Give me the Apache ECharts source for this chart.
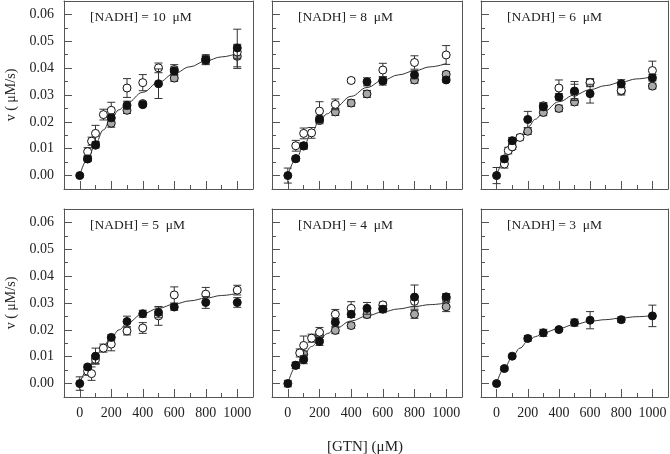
<!DOCTYPE html>
<html><head><meta charset="utf-8">
<script src="https://cdn.jsdelivr.net/npm/echarts@6/dist/echarts.min.js"></script>
<style>html,body{margin:0;padding:0;background:#fff}#c{width:670px;height:454px}</style>
</head><body><div id="c"></div>
<script>
// ---- tick labels / titles ----
const xMajorTicks = [0, 200, 400, 600, 800, 1000];
const xMinorTicks = [100, 300, 500, 700, 900];
const yMajorTicks = [0, 0.01, 0.02, 0.03, 0.04, 0.05, 0.06];
const yMinorTicks = [0.005, 0.015, 0.025, 0.035, 0.045, 0.055];
const panelTitles = ['[NADH] = 10  \u03bcM', '[NADH] = 8  \u03bcM', '[NADH] = 6  \u03bcM',
                     '[NADH] = 5  \u03bcM', '[NADH] = 4  \u03bcM', '[NADH] = 3  \u03bcM'];
const yTitle = 'v ( \u03bcM/s)';
const xTitle = '[GTN] (\u03bcM)';

// ---- data: [GTN, v, error] ----
const p1Black = [[0,0,0.0005],[50,0.0062,0.0008],[100,0.0115,0.001],[200,0.0215,0.0012],[300,0.0262,0.0015],[400,0.0264,0.0007],[500,0.0342,0.0055],[600,0.0389,0.0015],[800,0.0431,0.0015],[1000,0.0475,0.007]];
const p1Gray  = [[50,0.0062,0.0008],[100,0.0113,0.001],[200,0.0195,0.0015],[300,0.0243,0.0012],[400,0.0268,0.0008],[600,0.0363,0.0012],[800,0.0428,0.0015],[1000,0.0444,0.0045]];
const p1Open  = [[50,0.0089,0.0015],[75,0.0128,0.0015],[100,0.0157,0.003],[150,0.0227,0.002],[200,0.0243,0.003],[300,0.0326,0.0035],[400,0.0346,0.003],[500,0.0401,0.0018],[600,0.0395,0.0018],[800,0.0435,0.0015],[1000,0.046,0.0025]];

const p2Black = [[0,0,0.0028],[50,0.0063,0.0008],[100,0.0111,0.001],[200,0.021,0.0012],[500,0.0349,0.0015],[600,0.0352,0.0015],[800,0.0375,0.0015],[1000,0.0356,0.0008]];
const p2Gray  = [[50,0.0063,0.0008],[100,0.011,0.0012],[200,0.0205,0.0012],[300,0.0237,0.0013],[400,0.027,0.0012],[500,0.0304,0.0013],[600,0.0355,0.0012],[800,0.0356,0.0012],[1000,0.0377,0.001]];
const p2Open  = [[50,0.0111,0.002],[100,0.0157,0.002],[150,0.0159,0.002],[200,0.024,0.0035],[300,0.0265,0.002],[400,0.0354,0.0008],[600,0.0393,0.0025],[800,0.0421,0.0025],[1000,0.0449,0.0035]];

const p3Black = [[0,0,0.003],[50,0.0062,0.001],[100,0.013,0.0012],[200,0.0209,0.003],[300,0.0256,0.0012],[400,0.0293,0.0012],[500,0.0315,0.0035],[600,0.0305,0.0035],[800,0.0342,0.0015],[1000,0.0364,0.0012]];
const p3Gray  = [[100,0.0107,0.001],[200,0.0165,0.0012],[300,0.0235,0.0012],[400,0.025,0.0012],[500,0.0274,0.0012],[600,0.0346,0.0012],[800,0.0315,0.0015],[1000,0.0333,0.001]];
const p3Open  = [[50,0.0043,0.0015],[75,0.0093,0.0012],[100,0.0107,0.001],[150,0.0142,0.001],[300,0.026,0.0012],[400,0.0326,0.003],[500,0.031,0.003],[600,0.0346,0.0015],[800,0.0317,0.0012],[1000,0.0391,0.0035]];

const p4Black = [[0,0,0.0025],[50,0.0062,0.0008],[100,0.0102,0.003],[200,0.0172,0.001],[300,0.0231,0.002],[400,0.026,0.0013],[500,0.0265,0.002],[600,0.0285,0.0012],[800,0.0302,0.0022],[1000,0.0302,0.0018]];
const p4Gray  = [];
const p4Open  = [[50,0.0046,0.0015],[75,0.0037,0.0025],[100,0.009,0.0015],[150,0.0132,0.0015],[200,0.0147,0.0025],[300,0.0196,0.0015],[400,0.0207,0.002],[500,0.0252,0.0035],[600,0.033,0.003],[800,0.0333,0.0025],[1000,0.0348,0.0018]];

const p5Black = [[0,0,0.0012],[50,0.0068,0.0012],[100,0.0089,0.0015],[200,0.0157,0.0015],[300,0.0228,0.0015],[400,0.0258,0.0012],[500,0.028,0.0022],[600,0.0277,0.0013],[800,0.0322,0.0045],[1000,0.0323,0.0012]];
const p5Gray  = [[50,0.0068,0.001],[100,0.0109,0.0012],[200,0.0179,0.0015],[300,0.0198,0.0012],[400,0.0216,0.001],[500,0.0257,0.0012],[600,0.0279,0.001],[800,0.0258,0.0015],[1000,0.0286,0.0018]];
const p5Open  = [[75,0.0114,0.0015],[100,0.0142,0.0035],[150,0.0169,0.0015],[200,0.0191,0.0018],[300,0.0258,0.0018],[400,0.028,0.0025],[600,0.0293,0.001],[800,0.0306,0.002],[1000,0.0318,0.0015]];

const p6Black = [[0,0,0.0005],[50,0.0056,0.0007],[100,0.0102,0.0006],[200,0.0168,0.001],[300,0.0189,0.0013],[400,0.0201,0.0006],[500,0.0227,0.0013],[600,0.0236,0.0032],[800,0.0238,0.001],[1000,0.0252,0.004]];
const p6Gray  = [];
const p6Open  = [];

// ---- fitted curves ----
const curveX = [0, 50, 100, 150, 200, 250, 300, 400, 500, 600, 700, 800, 900, 1000];
const p1Curve = [0,0.0062,0.0118,0.017,0.0214,0.0245,0.027,0.031,0.0347,0.038,0.0405,0.0427,0.0442,0.0455];
const p2Curve = [0,0.006,0.011,0.016,0.0205,0.023,0.0255,0.0295,0.0328,0.0355,0.0375,0.039,0.0405,0.0417];
const p3Curve = [0,0.0055,0.0105,0.0145,0.018,0.021,0.0237,0.0275,0.030,0.032,0.0335,0.0348,0.036,0.0368];
const p4Curve = [0,0.0052,0.0099,0.014,0.0172,0.020,0.0225,0.026,0.028,0.0296,0.0308,0.0318,0.0328,0.0336];
const p5Curve = [0,0.0062,0.0108,0.0138,0.0163,0.0186,0.0205,0.0233,0.0252,0.0267,0.0278,0.0287,0.0294,0.030];
const p6Curve = [0,0.0058,0.0098,0.0132,0.0158,0.0175,0.0189,0.0205,0.022,0.0232,0.0238,0.0244,0.0249,0.0253];

const panels = [
  {black:p1Black, gray:p1Gray, open:p1Open, curve:p1Curve},
  {black:p2Black, gray:p2Gray, open:p2Open, curve:p2Curve},
  {black:p3Black, gray:p3Gray, open:p3Open, curve:p3Curve},
  {black:p4Black, gray:p4Gray, open:p4Open, curve:p4Curve},
  {black:p5Black, gray:p5Gray, open:p5Open, curve:p5Curve},
  {black:p6Black, gray:p6Gray, open:p6Open, curve:p6Curve}
];

// ---- layout ----
const colLeft = [64, 272, 481];
const colWidth = [189, 190, 187];
const rowTop = [1, 209];
const rowHeight = 188;
const FONT = 'Liberation Serif';
const FRAME = '#555';

const chart = echarts.init(document.getElementById('c'), null, {renderer:'canvas'});
const grids = [], xAxes = [], yAxes = [], series = [], graphics = [];

function errRender(params, api) {
  const x = api.value(0), v = api.value(1), e = api.value(2);
  const t = api.coord([x, v + e]);
  const b = api.coord([x, v - e]);
  const hw = 4;
  const st = {stroke:'#333', lineWidth:1};
  return {type:'group', children:[
    {type:'line', shape:{x1:t[0], y1:t[1], x2:b[0], y2:b[1]}, style:st},
    {type:'line', shape:{x1:t[0]-hw, y1:t[1], x2:t[0]+hw, y2:t[1]}, style:st},
    {type:'line', shape:{x1:b[0]-hw, y1:b[1], x2:b[0]+hw, y2:b[1]}, style:st}
  ]};
}

const lineOn = {show:true, onZero:false, lineStyle:{color:FRAME, width:1}};
const lineOff = {show:false, onZero:false};
const noTick = {show:false};

panels.forEach((p, i) => {
  const row = Math.floor(i / 3), col = i % 3;
  grids.push({left:colLeft[col], top:rowTop[row], width:colWidth[col], height:rowHeight,
    show:false, containLabel:false});
  const xBase = xAxes.length, yBase = yAxes.length;
  xAxes.push({gridIndex:i, type:'value', position:'bottom', min:-100, max:1100,
    axisLine:lineOn, splitLine:{show:false},
    axisTick:{show:true, inside:true, length:8, customValues:xMajorTicks, lineStyle:{color:FRAME}},
    axisLabel:{show: row === 1, customValues:xMajorTicks, margin:9, fontFamily:FONT, fontSize:14, color:'#222',
      formatter:(v)=>String(v)}});
  xAxes.push({gridIndex:i, type:'value', position:'bottom', min:-100, max:1100,
    axisLine:lineOff, splitLine:{show:false},
    axisTick:{show:true, inside:true, length:4, customValues:xMinorTicks, lineStyle:{color:FRAME}},
    axisLabel:{show:false, customValues:xMinorTicks}});
  xAxes.push({gridIndex:i, type:'value', position:'top', min:-100, max:1100,
    axisLine:lineOn, splitLine:{show:false}, axisTick:noTick, axisLabel:{show:false}});
  const yMain = {gridIndex:i, type:'value', position:'left', min:-0.005, max:0.065,
    axisLine:lineOn, splitLine:{show:false},
    axisTick:{show:true, inside:true, length:8, customValues:yMajorTicks, lineStyle:{color:FRAME}},
    axisLabel:{show: col === 0, customValues:yMajorTicks, margin:10, fontFamily:FONT, fontSize:14, color:'#222',
      formatter:(v)=>v.toFixed(2)}};
  if (col === 0) {
    yMain.name = yTitle; yMain.nameLocation = 'middle'; yMain.nameGap = 46; yMain.nameRotate = 90;
    yMain.nameTextStyle = {fontFamily:FONT, fontSize:14, color:'#222'};
  }
  yAxes.push(yMain);
  yAxes.push({gridIndex:i, type:'value', position:'left', min:-0.005, max:0.065,
    axisLine:lineOff, splitLine:{show:false},
    axisTick:{show:true, inside:true, length:4, customValues:yMinorTicks, lineStyle:{color:FRAME}},
    axisLabel:{show:false, customValues:yMinorTicks}});
  yAxes.push({gridIndex:i, type:'value', position:'right', min:-0.005, max:0.065,
    axisLine:lineOn, splitLine:{show:false}, axisTick:noTick, axisLabel:{show:false}});

  const xi = xBase, yi = yBase;
  series.push({type:'line', xAxisIndex:xi, yAxisIndex:yi, data:curveX.map((x,k)=>[x, p.curve[k]]),
    smooth:0.4, smoothMonotone:'x', symbol:'none', lineStyle:{color:'#333', width:1}, z:1, silent:true});
  const groups = [
    {d:p.gray, fill:'#a8a8a8'},
    {d:p.open, fill:'#ffffff'},
    {d:p.black, fill:'#111111'}
  ];
  groups.forEach((g, gi) => {
    if (!g.d.length) return;
    series.push({type:'custom', xAxisIndex:xi, yAxisIndex:yi, renderItem:errRender,
      encode:{x:0, y:1}, data:g.d, z:2+gi*2, silent:true});
    series.push({type:'scatter', xAxisIndex:xi, yAxisIndex:yi, data:g.d.map(d=>[d[0], d[1]]),
      symbol:'circle', symbolSize:8, itemStyle:{color:g.fill, borderColor:'#111', borderWidth:1, opacity:1},
      z:3+gi*2, silent:true});
  });
  graphics.push({type:'text', left:colLeft[col] + 26, top:rowTop[row] + 9,
    style:{text:panelTitles[i], font:'13.5px "' + FONT + '"', fill:'#222'}});
});

graphics.push({type:'text', x:365, y:447, style:{text:xTitle, textAlign:'center', textVerticalAlign:'middle',
  font:'15px "' + FONT + '"', fill:'#222'}});

chart.setOption({
  animation:false,
  backgroundColor:'#fff',
  grid:grids, xAxis:xAxes, yAxis:yAxes, series:series, graphic:graphics
});
</script></body></html>
